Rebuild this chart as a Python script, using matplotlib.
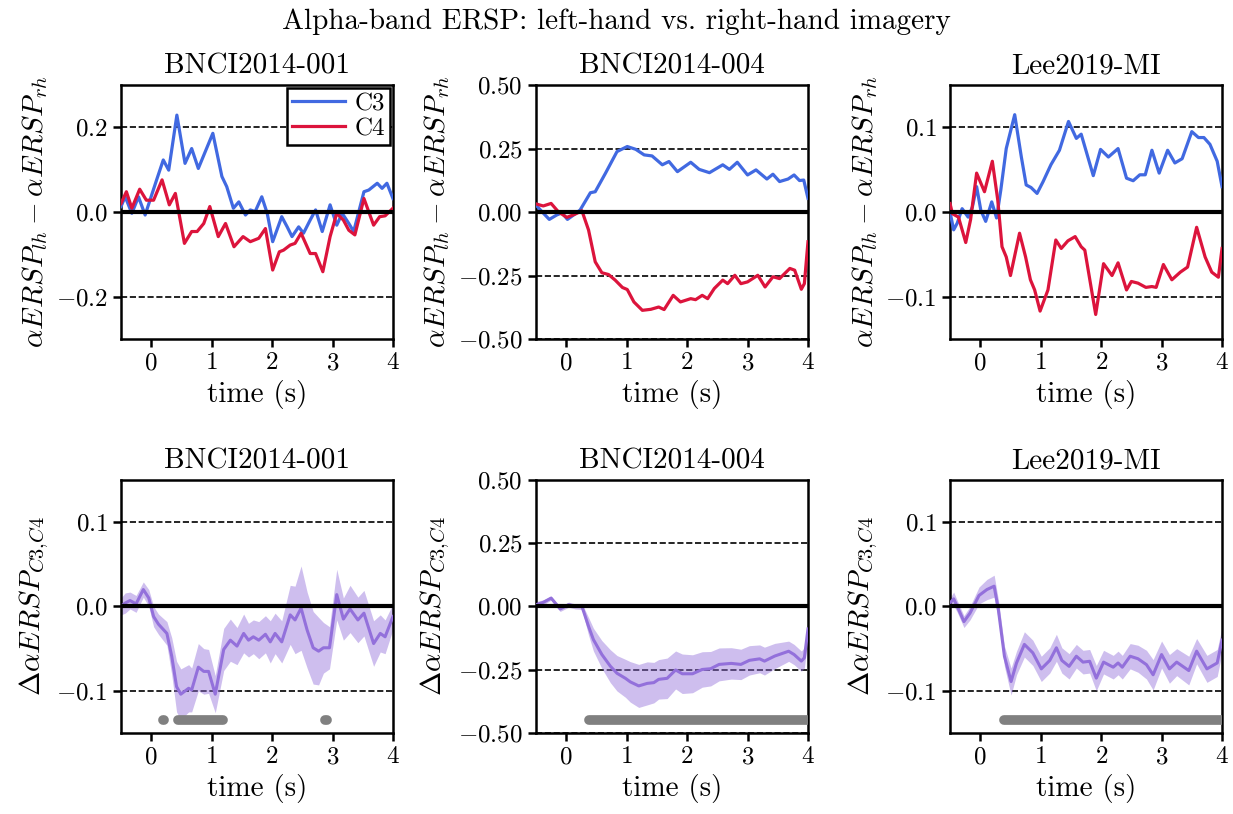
import matplotlib
matplotlib.use('Agg')
import matplotlib.pyplot as plt
import numpy as np

# Fuente tipo LaTeX (Computer Modern)
plt.rcParams['font.family'] = 'serif'
plt.rcParams['font.serif'] = ['cmr10', 'DejaVu Serif']
plt.rcParams['mathtext.fontset'] = 'cm'
plt.rcParams['axes.formatter.use_mathtext'] = True
plt.rcParams['axes.unicode_minus'] = True

datasets = ['BNCI2014-001', 'BNCI2014-004', 'Lee2019-MI']

# ---- fila superior: C3 y C4 ----
t_001_c3 = [-0.50, -0.43, -0.32, -0.21, -0.10, -0.02, 0.09, 0.20, 0.29, 0.425, 0.56, 0.67, 0.78, 1.02,
            1.17, 1.25, 1.36, 1.45, 1.56, 1.64, 1.72, 1.83, 1.92, 2.01, 2.16, 2.25, 2.33, 2.44, 2.52,
            2.63, 2.72, 2.83, 2.96, 3.07, 3.16, 3.27, 3.35, 3.52, 3.60, 3.74, 3.82, 3.90, 4.00]
v_001_c3 = [0.013, 0.036, -0.003, 0.036, -0.007, 0.028, 0.076, 0.123, 0.099, 0.229, 0.115, 0.150, 0.103,
            0.186, 0.084, 0.060, 0.009, 0.024, -0.007, 0.005, 0.001, 0.036, -0.003, -0.070, -0.011,
            -0.035, -0.058, -0.035, -0.050, -0.019, 0.005, -0.046, 0.017, -0.031, -0.003, -0.027,
            -0.046, 0.048, 0.052, 0.068, 0.056, 0.068, 0.032]
t_001_c4 = [-0.50, -0.41, -0.32, -0.19, -0.08, 0.04, 0.18, 0.30, 0.40, 0.55, 0.67, 0.76, 0.87, 0.97,
            1.11, 1.23, 1.37, 1.52, 1.64, 1.78, 1.89, 2.01, 2.12, 2.19, 2.30, 2.38, 2.48, 2.63, 2.72,
            2.84, 2.96, 3.07, 3.18, 3.27, 3.37, 3.52, 3.68, 3.78, 3.87, 4.00]
v_001_c4 = [0.020, 0.048, 0.009, 0.054, 0.028, 0.028, 0.076, 0.017, 0.044, -0.074, -0.046, -0.046,
            -0.027, 0.013, -0.058, -0.027, -0.082, -0.058, -0.070, -0.062, -0.039, -0.137, -0.094,
            -0.090, -0.078, -0.074, -0.050, -0.098, -0.098, -0.141, -0.058, -0.003, -0.019, -0.043,
            -0.054, 0.032, -0.031, -0.011, -0.009, 0.009]

t_004_c3 = [-0.50, -0.40, -0.28, -0.16, -0.07, 0.02, 0.12, 0.23, 0.40, 0.48, 0.65, 0.84, 1.01, 1.15,
            1.29, 1.42, 1.59, 1.70, 1.84, 2.06, 2.20, 2.37, 2.59, 2.70, 2.83, 3.00, 3.14, 3.32, 3.42,
            3.53, 3.67, 3.77, 3.86, 3.93, 4.00]
v_004_c3 = [0.028, 0.001, -0.029, -0.012, -0.003, -0.029, -0.012, 0.008, 0.076, 0.080, 0.153, 0.238,
            0.258, 0.247, 0.225, 0.221, 0.186, 0.199, 0.159, 0.196, 0.168, 0.155, 0.186, 0.168, 0.196,
            0.146, 0.166, 0.130, 0.149, 0.120, 0.130, 0.146, 0.124, 0.126, 0.054]
t_004_c4 = [-0.50, -0.38, -0.25, -0.13, 0.01, 0.15, 0.26, 0.37, 0.48, 0.59, 0.70, 0.81, 0.93, 1.01,
            1.12, 1.26, 1.40, 1.53, 1.62, 1.77, 1.89, 2.06, 2.14, 2.25, 2.34, 2.45, 2.59, 2.67, 2.79,
            2.89, 3.00, 3.17, 3.29, 3.42, 3.53, 3.70, 3.78, 3.89, 3.94, 4.00]
v_004_c4 = [0.032, 0.024, 0.034, 0.001, -0.021, -0.008, 0.005, -0.071, -0.196, -0.239, -0.246, -0.268,
            -0.297, -0.305, -0.354, -0.387, -0.383, -0.374, -0.384, -0.328, -0.354, -0.341, -0.345,
            -0.328, -0.341, -0.301, -0.268, -0.282, -0.249, -0.282, -0.275, -0.249, -0.295, -0.255,
            -0.262, -0.222, -0.229, -0.304, -0.282, -0.117]

t_lee_c3 = [-0.50, -0.44, -0.38, -0.30, -0.25, -0.20, -0.13, -0.06, 0.01, 0.09, 0.19, 0.27, 0.34, 0.43,
            0.57, 0.68, 0.76, 0.84, 0.94, 1.04, 1.17, 1.31, 1.46, 1.59, 1.67, 1.87, 1.99, 2.12, 2.28,
            2.42, 2.53, 2.64, 2.73, 2.84, 2.96, 3.10, 3.22, 3.34, 3.50, 3.61, 3.70, 3.80, 3.92, 4.00]
v_lee_c3 = [0.000, -0.021, -0.013, 0.004, -0.001, -0.006, 0.006, 0.030, 0.002, -0.011, 0.012, -0.007,
            0.026, 0.075, 0.115, 0.065, 0.032, 0.029, 0.022, 0.036, 0.056, 0.073, 0.107, 0.087, 0.092,
            0.043, 0.074, 0.065, 0.075, 0.040, 0.037, 0.044, 0.044, 0.073, 0.046, 0.073, 0.058, 0.063,
            0.095, 0.088, 0.088, 0.080, 0.060, 0.030]
t_lee_c4 = [-0.50, -0.46, -0.36, -0.24, -0.16, -0.06, 0.07, 0.20, 0.29, 0.36, 0.43, 0.50, 0.65, 0.75,
            0.83, 0.90, 0.99, 1.12, 1.25, 1.34, 1.45, 1.57, 1.67, 1.73, 1.91, 2.04, 2.18, 2.28, 2.42,
            2.50, 2.61, 2.74, 2.84, 2.91, 3.03, 3.17, 3.31, 3.43, 3.58, 3.72, 3.83, 3.94, 4.00]
v_lee_c4 = [0.010, -0.002, -0.006, -0.036, -0.009, 0.046, 0.024, 0.060, 0.014, -0.041, -0.053, -0.075,
            -0.025, -0.053, -0.080, -0.092, -0.117, -0.092, -0.033, -0.043, -0.034, -0.029, -0.041,
            -0.045, -0.121, -0.061, -0.075, -0.060, -0.092, -0.082, -0.084, -0.089, -0.088, -0.089,
            -0.062, -0.080, -0.071, -0.065, -0.018, -0.053, -0.071, -0.077, -0.043]

# ---- fila inferior: diferencia C3-C4 (media +- dispersion) ----
t_001_d = [-0.50, -0.43, -0.35, -0.25, -0.13, -0.04, 0.04, 0.12, 0.26, 0.34, 0.42, 0.49, 0.62, 0.67,
           0.78, 0.87, 0.95, 1.06, 1.20, 1.31, 1.42, 1.53, 1.61, 1.69, 1.78, 1.89, 1.97, 2.05, 2.16,
           2.30, 2.38, 2.48, 2.58, 2.68, 2.77, 2.85, 2.95, 3.07, 3.18, 3.29, 3.42, 3.52, 3.68, 3.79,
           3.87, 4.00]
m_001_d = [0.000, 0.004, 0.007, 0.003, 0.020, 0.010, -0.012, -0.021, -0.032, -0.059, -0.095, -0.104,
           -0.097, -0.099, -0.072, -0.077, -0.077, -0.104, -0.051, -0.040, -0.047, -0.032, -0.040,
           -0.036, -0.040, -0.033, -0.042, -0.032, -0.042, -0.010, -0.016, -0.002, -0.028, -0.049,
           -0.053, -0.049, -0.049, 0.014, -0.015, -0.003, -0.016, -0.008, -0.044, -0.032, -0.036,
           -0.012]
s_001_d = [0.010, 0.012, 0.010, 0.010, 0.009, 0.010, 0.012, 0.012, 0.014, 0.022, 0.030, 0.030, 0.028,
           0.026, 0.028, 0.027, 0.026, 0.022, 0.025, 0.025, 0.022, 0.023, 0.020, 0.020, 0.022, 0.022,
           0.025, 0.024, 0.025, 0.035, 0.040, 0.050, 0.045, 0.043, 0.040, 0.030, 0.025, 0.030, 0.025,
           0.028, 0.027, 0.027, 0.027, 0.022, 0.020, 0.015]

t_004_d = [-0.50, -0.38, -0.25, -0.10, 0.04, 0.15, 0.26, 0.37, 0.45, 0.59, 0.73, 0.84, 0.98, 1.06,
           1.20, 1.34, 1.45, 1.53, 1.67, 1.81, 1.92, 2.09, 2.25, 2.39, 2.53, 2.73, 2.89, 3.03, 3.20,
           3.28, 3.45, 3.68, 3.77, 3.89, 3.94, 4.00]
m_004_d = [0.007, 0.016, 0.033, -0.010, 0.007, 0.000, 0.000, -0.079, -0.131, -0.190, -0.236, -0.264,
           -0.284, -0.298, -0.314, -0.304, -0.301, -0.288, -0.284, -0.251, -0.266, -0.266, -0.249,
           -0.246, -0.229, -0.225, -0.229, -0.213, -0.207, -0.216, -0.196, -0.177, -0.190, -0.216,
           -0.203, -0.089]
s_004_d = [0.012, 0.010, 0.008, 0.010, 0.010, 0.010, 0.012, 0.035, 0.045, 0.055, 0.065, 0.070, 0.075,
           0.080, 0.085, 0.085, 0.080, 0.078, 0.080, 0.075, 0.078, 0.075, 0.070, 0.068, 0.065, 0.062,
           0.060, 0.058, 0.055, 0.055, 0.050, 0.040, 0.040, 0.040, 0.040, 0.035]

t_lee_d = [-0.50, -0.44, -0.38, -0.27, -0.17, -0.02, 0.11, 0.23, 0.30, 0.40, 0.51, 0.60, 0.73, 0.87,
           1.01, 1.15, 1.26, 1.35, 1.47, 1.59, 1.70, 1.81, 1.92, 2.04, 2.20, 2.28, 2.35, 2.48, 2.61,
           2.75, 2.86, 3.00, 3.13, 3.25, 3.45, 3.58, 3.75, 3.92, 4.00]
m_lee_d = [0.004, 0.009, 0.000, -0.018, -0.008, 0.013, 0.020, 0.024, -0.004, -0.059, -0.089, -0.067,
           -0.045, -0.055, -0.074, -0.064, -0.049, -0.064, -0.071, -0.059, -0.066, -0.065, -0.085,
           -0.066, -0.072, -0.067, -0.072, -0.059, -0.062, -0.069, -0.081, -0.057, -0.074, -0.066,
           -0.076, -0.053, -0.074, -0.067, -0.040]
s_lee_d = [0.006, 0.008, 0.007, 0.007, 0.008, 0.010, 0.012, 0.013, 0.012, 0.012, 0.016, 0.014, 0.015,
           0.015, 0.015, 0.015, 0.016, 0.015, 0.015, 0.014, 0.014, 0.014, 0.015, 0.014, 0.014, 0.014,
           0.014, 0.015, 0.016, 0.017, 0.018, 0.016, 0.017, 0.016, 0.017, 0.015, 0.016, 0.016, 0.015]

# intervalos significativos (inicio, fin) en segundos
sig_001 = [(0.19, 0.21), (0.45, 1.19), (2.87, 2.91)]
sig_004 = [(0.37, 4.0)]
sig_lee = [(0.40, 4.0)]

# limites y ticks del eje y (fila superior / inferior)
ylims_top = [0.3, 0.5, 0.15]
yticks_top = [[-0.2, 0.0, 0.2], [-0.5, -0.25, 0.0, 0.25, 0.5], [-0.1, 0.0, 0.1]]
ylims_bottom = [0.15, 0.5, 0.15]
yticks_bottom = [[-0.1, 0.0, 0.1], [-0.5, -0.25, 0.0, 0.25, 0.5], [-0.1, 0.0, 0.1]]

C3_COLOR = 'royalblue'
C4_COLOR = 'crimson'
DIFF_COLOR = 'mediumpurple'


def estilo_ejes(ax, ylim, ticks, titulo):
    """Aplica limites, ticks, lineas de referencia y titulo a un eje."""
    ax.set_xlim(-0.5, 4)
    ax.set_ylim(-ylim, ylim)
    ax.set_xticks([0, 1, 2, 3, 4])
    ax.set_yticks(ticks)
    for yv in ticks:
        if yv != 0:
            ax.axhline(yv, color='black', linestyle='--', linewidth=1.2, zorder=1)
    ax.axhline(0, color='black', linewidth=3, zorder=4)
    ax.set_xlabel('time (s)', fontsize=21)
    ax.set_title(titulo, fontsize=21, pad=8)
    ax.tick_params(labelsize=18, width=1.8, length=6)
    for sp in ax.spines.values():
        sp.set_linewidth(1.8)


def graficar():
    """Dibuja la figura de 2x3 paneles y la guarda en out.png."""
    fig = plt.figure(figsize=(12.33, 8.14), dpi=100)

    lefts = [0.0981, 0.4347, 0.7705]
    width = 0.2206
    top_row = [(t_001_c3, v_001_c3, t_001_c4, v_001_c4),
               (t_004_c3, v_004_c3, t_004_c4, v_004_c4),
               (t_lee_c3, v_lee_c3, t_lee_c4, v_lee_c4)]
    bottom_row = [(t_001_d, m_001_d, s_001_d, sig_001),
                  (t_004_d, m_004_d, s_004_d, sig_004),
                  (t_lee_d, m_lee_d, s_lee_d, sig_lee)]

    for i in range(3):
        # Fila superior
        ax = fig.add_axes([lefts[i], 0.5835, width, 0.312])
        ta, va, tb, vb = top_row[i]
        ax.plot(ta, va, color=C3_COLOR, linewidth=2.3, label='C3', zorder=3)
        ax.plot(tb, vb, color=C4_COLOR, linewidth=2.3, label='C4', zorder=3)
        estilo_ejes(ax, ylims_top[i], yticks_top[i], datasets[i])
        ax.set_ylabel(r'$\alpha ERSP_{lh} - \alpha ERSP_{rh}$', fontsize=21)
        if i == 0:
            leg = ax.legend(loc='upper right', fontsize=18, fancybox=False, framealpha=1,
                            edgecolor='black', borderaxespad=0.1, borderpad=0.2,
                            labelspacing=0.1, handlelength=2.1, handletextpad=0.4)
            leg.get_frame().set_linewidth(1.8)
            leg.set_zorder(10)

        # Fila inferior
        ax = fig.add_axes([lefts[i], 0.0995, width, 0.311])
        td, md, sd, sig = bottom_row[i]
        md = np.array(md)
        sd = np.array(sd)
        ax.fill_between(td, md - sd, md + sd, color=DIFF_COLOR, alpha=0.45, linewidth=0, zorder=2)
        ax.plot(td, md, color=DIFF_COLOR, linewidth=2.2, zorder=3)
        y_sig = -0.9 * ylims_bottom[i]
        for a, b in sig:
            ax.plot([a, b], [y_sig, y_sig], color='gray', linewidth=7,
                    solid_capstyle='round', zorder=3)
        estilo_ejes(ax, ylims_bottom[i], yticks_bottom[i], datasets[i])
        ax.set_ylabel(r'$\Delta\alpha ERSP_{C3{,}C4}$', fontsize=21)

    fig.suptitle('Alpha-band ERSP: left-hand vs. right-hand imagery', fontsize=21, y=0.99)

    fig.savefig('out.png', dpi=100)


if __name__ == '__main__':
    graficar()
